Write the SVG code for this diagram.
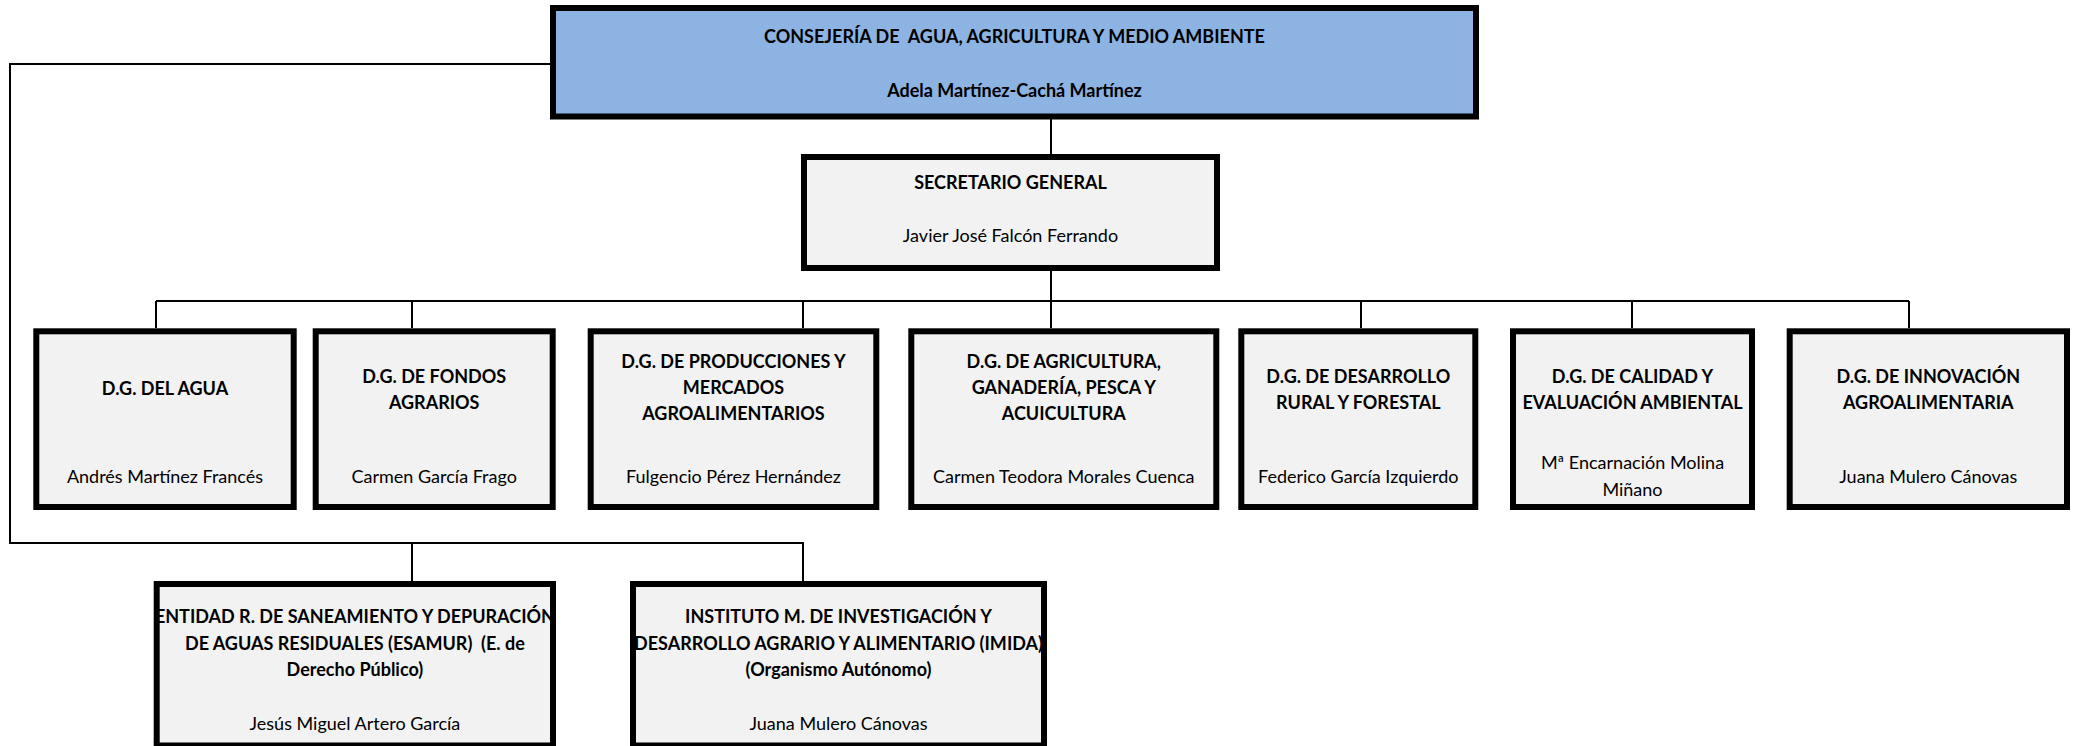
<svg xmlns="http://www.w3.org/2000/svg" width="2076" height="746" viewBox="0 0 2076 746">
<style>
.box{fill:#F2F2F2;stroke:#000;stroke-width:6}
.top{fill:#8DB3E2;stroke:#000;stroke-width:6}
.c{fill:none;stroke:#000;stroke-width:2}
text{font-family:Lato,"Liberation Sans",sans-serif;font-size:18px;fill:#000;text-anchor:middle}
.b{font-weight:bold}
</style>
<rect width="2076" height="746" fill="#fff"/>
<g id="connectors">
<path class="c" d="M553 64 H10 V543 H803 V581 M412 543 V581"/>
<path class="c" d="M1051 119 V154 M1051 270 V328 M156 301 H1909 M156 301 V328 M412 301 V328 M803 301 V328 M1361 301 V328 M1632 301 V328 M1909 301 V328"/>
</g>
<g id="consejeria">
<rect class="top" x="553" y="8" width="923" height="108.5"/>
<text class="b" x="1014.5" y="43">CONSEJERÍA DE&#160; AGUA, AGRICULTURA Y MEDIO AMBIENTE</text>
<text class="b" x="1014.5" y="97">Adela Martínez-Cachá Martínez</text>
</g>
<g id="secretario">
<rect class="box" x="804" y="157" width="413" height="111"/>
<text class="b" x="1010.5" y="188.5">SECRETARIO GENERAL</text>
<text x="1010.5" y="242">Javier José Falcón Ferrando</text>
</g>
<g id="dg-agua">
<rect class="box" x="36.3" y="331.3" width="257.4" height="175.7"/>
<text class="b" x="165" y="394.5">D.G. DEL AGUA</text>
<text x="165" y="482.5">Andrés Martínez Francés</text>
</g>
<g id="dg-fondos">
<rect class="box" x="315.7" y="331.3" width="237" height="175.7"/>
<text class="b" x="434.2" y="383">D.G. DE FONDOS</text>
<text class="b" x="434.2" y="409">AGRARIOS</text>
<text x="434.2" y="482.5">Carmen García Frago</text>
</g>
<g id="dg-producciones">
<rect class="box" x="590.7" y="331.3" width="285.6" height="175.7"/>
<text class="b" x="733.5" y="367.5">D.G. DE PRODUCCIONES Y</text>
<text class="b" x="733.5" y="393.5">MERCADOS</text>
<text class="b" x="733.5" y="419.5">AGROALIMENTARIOS</text>
<text x="733.5" y="482.5">Fulgencio Pérez Hernández</text>
</g>
<g id="dg-agricultura">
<rect class="box" x="911.3" y="331.3" width="305" height="175.7"/>
<text class="b" x="1063.8" y="367.5">D.G. DE AGRICULTURA,</text>
<text class="b" x="1063.8" y="393.5">GANADERÍA, PESCA Y</text>
<text class="b" x="1063.8" y="419.5">ACUICULTURA</text>
<text x="1063.8" y="482.5">Carmen Teodora Morales Cuenca</text>
</g>
<g id="dg-desarrollo">
<rect class="box" x="1241.3" y="331.3" width="234" height="175.7"/>
<text class="b" x="1358.3" y="383">D.G. DE DESARROLLO</text>
<text class="b" x="1358.3" y="409">RURAL Y FORESTAL</text>
<text x="1358.3" y="482.5">Federico García Izquierdo</text>
</g>
<g id="dg-calidad">
<rect class="box" x="1513" y="331.3" width="239" height="175.7"/>
<text class="b" x="1632.5" y="383">D.G. DE CALIDAD Y</text>
<text class="b" x="1632.5" y="409">EVALUACIÓN AMBIENTAL</text>
<text x="1632.5" y="469">Mª Encarnación Molina</text>
<text x="1632.5" y="495.5">Miñano</text>
</g>
<g id="dg-innovacion">
<rect class="box" x="1789.7" y="331.3" width="277.3" height="175.7"/>
<text class="b" x="1928.3" y="383">D.G. DE INNOVACIÓN</text>
<text class="b" x="1928.3" y="409">AGROALIMENTARIA</text>
<text x="1928.3" y="482.5">Juana Mulero Cánovas</text>
</g>
<g id="esamur">
<rect class="box" x="156.7" y="584" width="396.3" height="161.5"/>
<text class="b" x="354.9" y="623">ENTIDAD R. DE SANEAMIENTO Y DEPURACIÓN</text>
<text class="b" x="354.9" y="649.5" xml:space="preserve">DE AGUAS RESIDUALES (ESAMUR)  (E. de</text>
<text class="b" x="354.9" y="675.5">Derecho Público)</text>
<text x="354.9" y="730">Jesús Miguel Artero García</text>
</g>
<g id="imida">
<rect class="box" x="633" y="584" width="411" height="161.5"/>
<text class="b" x="838.5" y="623">INSTITUTO M. DE INVESTIGACIÓN Y</text>
<text class="b" x="838.5" y="649.5">DESARROLLO AGRARIO Y ALIMENTARIO (IMIDA)</text>
<text class="b" x="838.5" y="675.5">(Organismo Autónomo)</text>
<text x="838.5" y="730">Juana Mulero Cánovas</text>
</g>
</svg>
